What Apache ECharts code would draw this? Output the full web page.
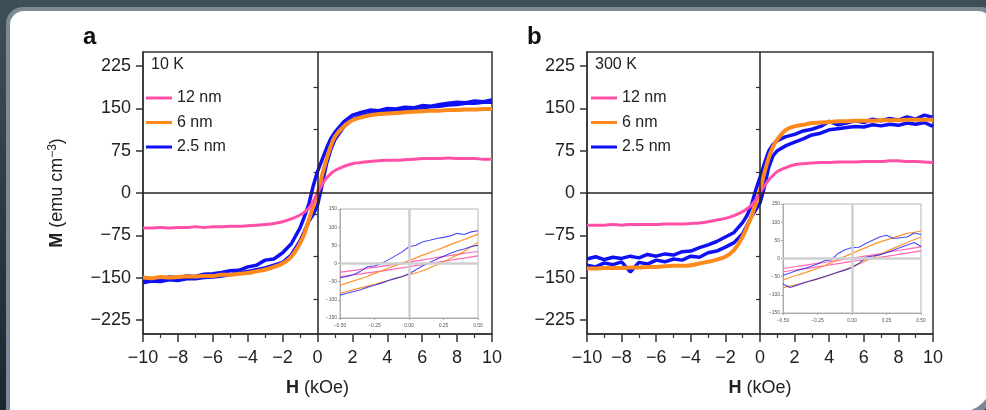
<!DOCTYPE html>
<html>
<head>
<meta charset="utf-8">
<title>M-H loops, 10 K and 300 K</title>
<style>
  html, body, #chart { margin: 0; padding: 0; width: 986px; height: 410px; }
</style>
</head>
<body>
<div id="chart"></div>
<script src="https://cdn.jsdelivr.net/npm/echarts@6/dist/echarts.min.js"></script>
<script>
// field grid for the main panels (kOe)
var hMain = [-10,-9.5,-9,-8.5,-8,-7.5,-7,-6.5,-6,-5.5,-5,-4.5,-4,-3.5,-3,-2.5,-2,-1.5,-1,-0.75,-0.5,-0.25,0,0.25,0.5,0.75,1,1.5,2,2.5,3,3.5,4,4.5,5,5.5,6,6.5,7,7.5,8,8.5,9,9.5,10];

// panel a, 10 K (emu cm^-3)
var pinkA = [-62,-62,-61,-62,-61,-61,-60,-61,-60,-60,-59,-59,-58,-57,-56,-54,-51,-46,-39,-34,-27,-15,0,14,26,34,40,47,52,54,56,57,58,58,59,60,61,61,61,62,61,61,61,60,60];
var orangeA = [-150,-151,-149,-150,-149,-148,-148,-147,-147,-145,-145,-143,-142,-139,-136,-131,-125,-113,-89,-72,-48,-24,0,30,58,82,100,118,129,134,138,140,141,142,143,144,145,146,146,147,147,148,148,149,149];
var blueADown = [-154,-152,-153,-149,-150,-147,-148,-144,-143,-141,-138,-137,-131,-128,-119,-117,-106,-90,-62,-42,-20,12,38,58,78,96,108,126,138,143,147,146,150,149,152,151,155,154,157,159,161,160,163,162,165];
var blueAUp = [-159,-156,-157,-154,-155,-152,-152,-150,-149,-147,-145,-142,-139,-136,-133,-128,-123,-110,-85,-68,-50,-38,-22,12,50,76,95,117,131,137,141,144,145,147,148,150,151,153,154,156,157,159,159,161,161];

// panel b, 300 K
var pinkB = [-57,-57,-57,-56,-57,-56,-56,-56,-56,-55,-55,-55,-54,-53,-51,-48,-45,-40,-33,-28,-22,-12,0,12,23,31,38,45,50,52,53,54,54,55,55,55,56,56,56,57,57,56,56,55,54];
var orangeB = [-134,-134,-133,-133,-133,-132,-132,-131,-131,-130,-129,-129,-128,-125,-122,-118,-113,-101,-77,-60,-42,-20,5,35,62,82,95,112,118,121,124,125,126,127,127,128,128,128,129,129,129,130,130,130,130];
var blueBDown = [-117,-113,-118,-114,-116,-112,-115,-109,-112,-108,-110,-104,-103,-97,-92,-86,-78,-70,-52,-40,-22,5,28,52,74,86,93,100,104,110,113,118,127,121,124,128,125,131,128,132,129,135,131,138,134];
var blueBUp = [-128,-131,-124,-127,-122,-140,-123,-126,-119,-122,-117,-119,-112,-114,-106,-103,-96,-88,-72,-58,-42,-30,-18,10,45,66,75,84,90,96,103,106,112,114,116,118,117,121,119,122,120,124,122,125,118];

// insets (low-field zoom)
var hInset = [-0.5,-0.4,-0.3,-0.2,-0.1,0,0.1,0.2,0.3,0.4,0.5];
var hInsetFine = [-0.5,-0.45,-0.4,-0.35,-0.3,-0.25,-0.2,-0.15,-0.1,-0.05,0,0.05,0.1,0.15,0.2,0.25,0.3,0.35,0.4,0.45,0.5];

var pinkAInUp = [-24,-19,-13,-8,-2,4,10,16,22,28,33];
var pinkAInLow = [-36,-31,-26,-21,-15,-9,-3,3,9,15,21];
var orangeAInUp = [-60,-48,-35,-20,-6,8,23,37,52,66,81];
var orangeAInLow = [-82,-72,-62,-52,-42,-31,-20,-4,14,34,58];
var blueAInUp = [-40,-36,-30,-21,-9,-7,0,10,21,32,46,50,60,64,69,72,76,83,80,87,90];
var blueAInLow = [-87,-82,-77,-72,-65,-60,-54,-47,-41,-36,-28,-17,-6,3,12,20,28,35,40,47,50];

var pinkBInUp = [-27,-22,-16,-11,-5,1,7,13,20,26,32];
var pinkBInLow = [-37,-31,-26,-20,-14,-8,-3,3,9,15,21];
var orangeBInUp = [-59,-46,-34,-20,-3,14,30,45,57,69,75];
var orangeBInLow = [-80,-72,-62,-50,-38,-23,-6,11,28,44,59];
var blueBInUp = [-46,-40,-33,-28,-22,-15,-6,-4,14,24,30,31,41,50,59,64,55,57,59,70,66];
var blueBInLow = [-70,-80,-74,-67,-61,-56,-50,-44,-37,-32,-25,-14,3,7,10,16,23,30,37,44,33];

var names = ['12 nm', '6 nm', '2.5 nm'];
var yMajor = [-225, -150, -75, 0, 75, 150, 225];
var yMinor = [-187.5, -112.5, -37.5, 37.5, 112.5, 187.5];

var PINK = '#ff4fa6', ORANGE = '#ff8a1c', BLUE = '#1010f5';
var FONT = "'Liberation Sans', Arial, sans-serif";

function pts(h, m) {
  return h.map(function (x, i) { return [x, m[i]]; });
}
function minus(v) { return String(v).replace('-', '\u2212'); }

function line(name, color, width, axis, data, smooth, opacity) {
  return {
    type: 'line', name: name, data: data,
    xAxisIndex: axis, yAxisIndex: axis,
    showSymbol: false, symbol: 'none', smooth: smooth || false,
    itemStyle: { color: color },
    lineStyle: { color: color, width: width, opacity: opacity == null ? 1 : opacity },
    emphasis: { disabled: true }
  };
}
function zeroLines(color, width) {
  return {
    silent: true, symbol: 'none', animation: false,
    label: { show: false },
    lineStyle: { color: color, width: width, type: 'solid' },
    data: [{ yAxis: 0 }, { xAxis: 0 }]
  };
}

function mainX(g) {
  return {
    type: 'value', gridIndex: g, min: -10, max: 10, interval: 2,
    axisLine: { show: true, onZero: false, lineStyle: { color: '#333', width: 1.5 } },
    axisTick: { show: true, length: 8, lineStyle: { color: '#333', width: 1.5 } },
    minorTick: { show: true, splitNumber: 2, length: 4, lineStyle: { color: '#333', width: 1.2 } },
    axisLabel: { fontSize: 18, color: '#222', margin: 15, fontFamily: FONT, formatter: minus },
    splitLine: { show: false }, minorSplitLine: { show: false },
    name: '{b|H} (kOe)', nameLocation: 'middle', nameGap: 45,
    nameTextStyle: { fontSize: 18, color: '#222', fontFamily: FONT,
      rich: { b: { fontSize: 18, fontWeight: 'bold', color: '#222', fontFamily: FONT } } }
  };
}
function mainY(g, withName) {
  var ax = {
    type: 'value', gridIndex: g, min: -250, max: 250,
    axisLine: { show: true, onZero: false, lineStyle: { color: '#333', width: 1.5 } },
    axisTick: { show: true, length: 7, customValues: yMajor, lineStyle: { color: '#333', width: 1.5 } },
    axisLabel: { fontSize: 18, color: '#222', margin: 12, fontFamily: FONT, customValues: yMajor, formatter: minus },
    splitLine: { show: false }
  };
  if (withName) {
    ax.name = '{b|M} (emu cm{s|\u22123})';
    ax.nameLocation = 'middle';
    ax.nameRotate = 90;
    ax.nameGap = 76;
    ax.nameTextStyle = { fontSize: 18, color: '#222', fontFamily: FONT, lineHeight: 20,
      rich: {
        b: { fontSize: 18, fontWeight: 'bold', color: '#222', fontFamily: FONT, lineHeight: 20 },
        s: { fontSize: 12, color: '#222', fontFamily: FONT, lineHeight: 12, verticalAlign: 'top' }
      } };
  }
  return ax;
}
function minorY(g) {
  return {
    type: 'value', gridIndex: g, min: -250, max: 250, position: 'left',
    axisLine: { show: false },
    axisTick: { show: true, length: 4, customValues: yMinor, lineStyle: { color: '#333', width: 1.2 } },
    axisLabel: { show: false }, splitLine: { show: false }
  };
}
function insetX(g) {
  return {
    type: 'value', gridIndex: g, min: -0.5, max: 0.5, interval: 0.25,
    axisLine: { show: true, onZero: false, lineStyle: { color: '#aaa', width: 1 } },
    axisTick: { show: true, length: 2, lineStyle: { color: '#999', width: 0.8 } },
    axisLabel: { fontSize: 5, color: '#555', margin: 5, fontFamily: FONT,
      formatter: function (v) { return v.toFixed(2).replace('-', '\u2212'); } },
    splitLine: { show: false }
  };
}
function insetY(g) {
  return {
    type: 'value', gridIndex: g, min: -150, max: 150, interval: 50,
    axisLine: { show: true, onZero: false, lineStyle: { color: '#aaa', width: 1 } },
    axisTick: { show: true, length: 2, lineStyle: { color: '#999', width: 0.8 } },
    axisLabel: { fontSize: 5, color: '#555', margin: 3, fontFamily: FONT, formatter: minus },
    splitLine: { show: false }
  };
}

var mainGrid = { show: true, borderColor: '#333', borderWidth: 1.5, backgroundColor: 'transparent', outerBoundsMode: 'none' };
var insetGrid = { show: true, borderColor: '#b5b5b5', borderWidth: 1, backgroundColor: '#fff', outerBoundsMode: 'none' };

function legendAt(left) {
  return {
    left: left, top: 89, orient: 'vertical', data: names, icon: 'rect',
    itemWidth: 26, itemHeight: 3, itemGap: 6.5, padding: 0, selectedMode: false,
    textStyle: { fontSize: 16, color: '#222', lineHeight: 18, fontFamily: FONT }
  };
}

var blueA0 = line(names[2], BLUE, 3.5, 0, pts(hMain, blueADown));
blueA0.markLine = zeroLines('#222', 1.5);
var blueB0 = line(names[2], BLUE, 3.5, 2, pts(hMain, blueBDown));
blueB0.markLine = zeroLines('#222', 1.5);
var pinkAIn0 = line(names[0], PINK, 1.2, 1, pts(hInset, pinkAInUp), 0.3, 0.85);
pinkAIn0.markLine = zeroLines('#cfcfcf', 2.5);
var pinkBIn0 = line(names[0], PINK, 1.2, 3, pts(hInset, pinkBInUp), 0.3, 0.85);
pinkBIn0.markLine = zeroLines('#cfcfcf', 2.5);

var chart = echarts.init(document.getElementById('chart'));
chart.setOption({
  animation: false,
  backgroundColor: new echarts.graphic.LinearGradient(0, 0, 0, 1, [
    { offset: 0, color: '#3f4f5a' }, { offset: 1, color: '#1c262d' }
  ]),
  textStyle: { fontFamily: FONT },
  graphic: [
    { type: 'rect', z: -10, shape: { x: 6, y: 7, width: 992, height: 410, r: [17, 17, 35, 0] }, style: { fill: '#7b8a94' } },
    { type: 'rect', z: -9, shape: { x: 10, y: 11, width: 982, height: 401, r: [14, 14, 32, 0] }, style: { fill: '#ffffff' } },
    { type: 'text', left: 83, top: 25, style: { text: 'a', fontSize: 24, fontWeight: 'bold', fill: '#111', fontFamily: FONT } },
    { type: 'text', left: 527, top: 25, style: { text: 'b', fontSize: 24, fontWeight: 'bold', fill: '#111', fontFamily: FONT } },
    { type: 'text', left: 151, top: 57, style: { text: '10 K', fontSize: 16, fill: '#222', fontFamily: FONT } },
    { type: 'text', left: 595, top: 57, style: { text: '300 K', fontSize: 16, fill: '#222', fontFamily: FONT } }
  ],
  legend: [legendAt(146), legendAt(591)],
  grid: [
    Object.assign({ left: 143, top: 52, width: 349, height: 282 }, mainGrid),
    Object.assign({ left: 340, top: 209, width: 138, height: 109 }, insetGrid),
    Object.assign({ left: 587, top: 52, width: 346, height: 282 }, mainGrid),
    Object.assign({ left: 783, top: 204, width: 138, height: 109 }, insetGrid)
  ],
  xAxis: [mainX(0), insetX(1), mainX(2), insetX(3)],
  yAxis: [mainY(0, true), insetY(1), mainY(2, false), insetY(3), minorY(0), minorY(2)],
  series: [
    // panel a
    blueA0,
    line(names[2], BLUE, 3.5, 0, pts(hMain, blueAUp)),
    line(names[1], ORANGE, 4, 0, pts(hMain, orangeA), 0.4),
    line(names[0], PINK, 3, 0, pts(hMain, pinkA), 0.4),
    // inset a
    pinkAIn0,
    line(names[0], PINK, 1.2, 1, pts(hInset, pinkAInLow), 0.3, 0.85),
    line(names[1], ORANGE, 1.2, 1, pts(hInset, orangeAInUp), 0.3, 0.9),
    line(names[1], ORANGE, 1.2, 1, pts(hInset, orangeAInLow), 0.3, 0.9),
    line(names[2], BLUE, 1.1, 1, pts(hInsetFine, blueAInUp), false, 0.75),
    line(names[2], BLUE, 1.1, 1, pts(hInsetFine, blueAInLow), false, 0.75),
    // panel b
    blueB0,
    line(names[2], BLUE, 3.5, 2, pts(hMain, blueBUp)),
    line(names[1], ORANGE, 4, 2, pts(hMain, orangeB), 0.4),
    line(names[0], PINK, 3, 2, pts(hMain, pinkB), 0.4),
    // inset b
    pinkBIn0,
    line(names[0], PINK, 1.2, 3, pts(hInset, pinkBInLow), 0.3, 0.85),
    line(names[1], ORANGE, 1.2, 3, pts(hInset, orangeBInUp), 0.3, 0.9),
    line(names[1], ORANGE, 1.2, 3, pts(hInset, orangeBInLow), 0.3, 0.9),
    line(names[2], BLUE, 1.1, 3, pts(hInsetFine, blueBInUp), false, 0.75),
    line(names[2], BLUE, 1.1, 3, pts(hInsetFine, blueBInLow), false, 0.75)
  ]
});
</script>
</body>
</html>
